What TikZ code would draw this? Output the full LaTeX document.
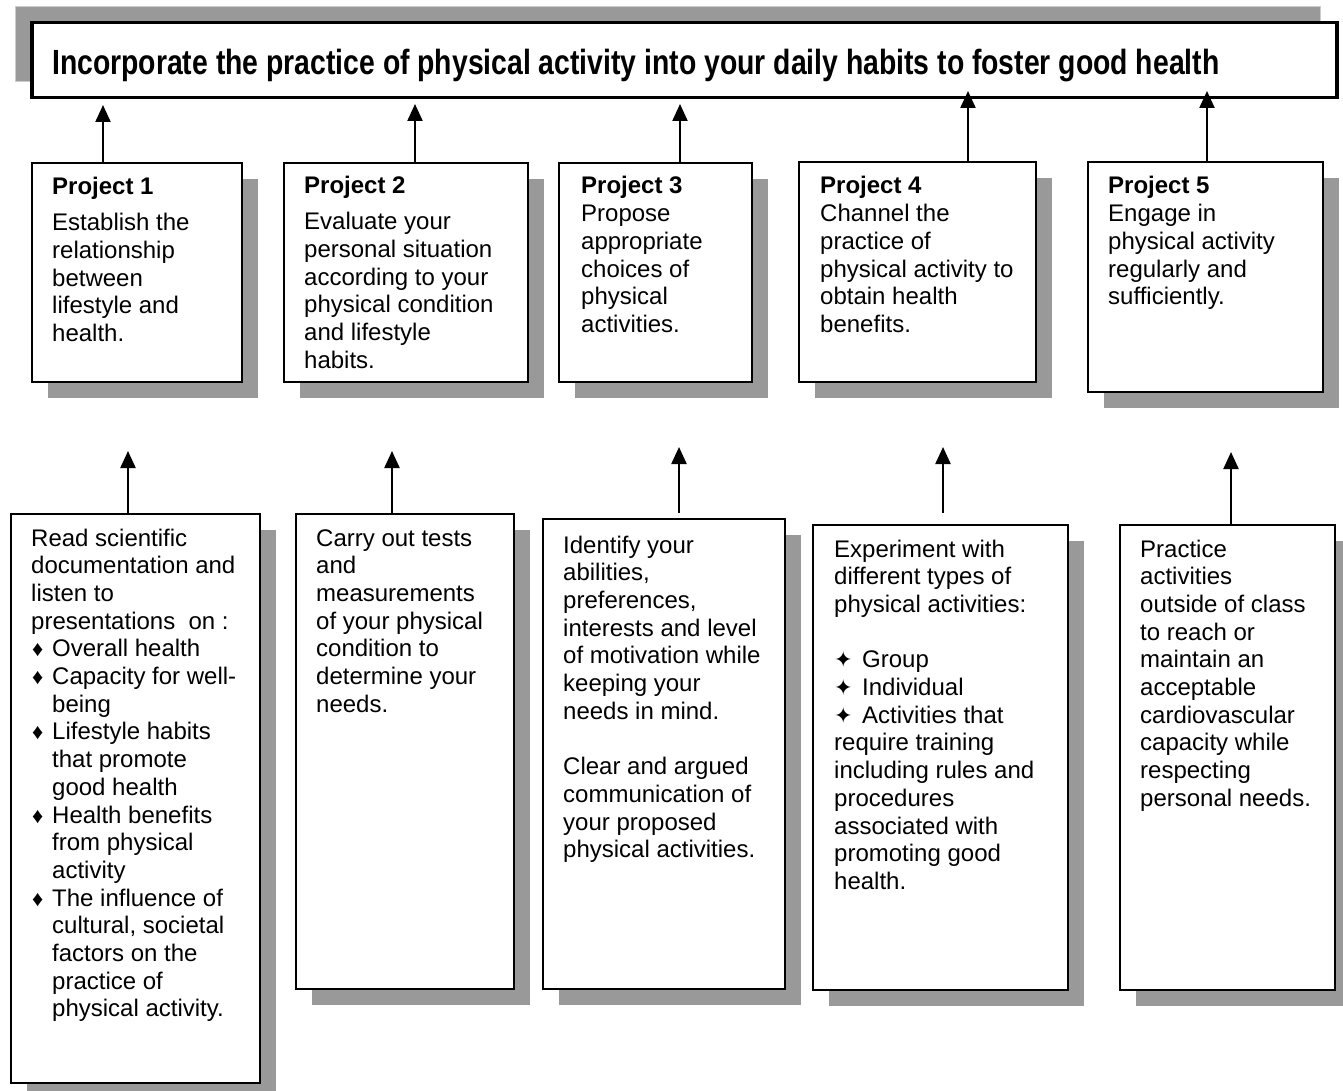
\documentclass[tikz,border=0pt]{standalone}
\usepackage{fontspec}
\setmainfont{Liberation Sans}
\newfontfamily\titlefont[FakeStretch=0.81]{Liberation Sans}
\newfontfamily\symfont{DejaVu Sans}
\usetikzlibrary{arrows.meta}
\usetikzlibrary{shadows}
\definecolor{shgray}{RGB}{153, 153, 153}
\newcommand{\boxlines}[1]{\parbox[t]{400pt}{\raggedright #1}}
\newcommand{\dia}{\makebox[21pt][l]{\hspace{1pt}\fontsize{22pt}{0pt}\selectfont ♦}}
\newcommand{\ind}{\hspace*{21pt}}
\newcommand{\sta}{\makebox[28pt][l]{\symfont\fontsize{22pt}{0pt}\selectfont ✦}}
\tikzset{arr/.style = {line width=2.2pt, -{Triangle[length=17pt, width=15pt]}}}
\tikzset{box/.style = {draw, line width=2pt, fill=white, inner sep=0, anchor=north west,
                       drop shadow={shadow xshift=16pt, shadow yshift=-16pt, fill=shgray, opacity=1}}}
\tikzset{goalbox/.style = {draw, line width=3.5pt, fill=white, inner sep=0, anchor=north west,
                           drop shadow={shadow xshift=-16pt, shadow yshift=16pt, fill=shgray,
                                        draw=black!20, line width=1pt, opacity=1}}}
\tikzset{txt/.style = {anchor=base west, inner sep=0, font=\fontsize{24pt}{27.7pt}\selectfont}}

\begin{document}
\begin{tikzpicture}[x=1pt, y=-1pt]
  \useasboundingbox (0, 0) rectangle (1343, 1091);
  % goal
  \node [goalbox, minimum width=1305pt, minimum height=75pt] (goal) at (30, 21) {};
  \node [anchor=base west, inner sep=0, font=\titlefont\bfseries\fontsize{35pt}{40pt}\selectfont] (goaltext) at (52, 75)
    {Incorporate the practice of physical activity into your daily habits to foster good health};
  % projects
  \node [box, minimum width=210pt, minimum height=219pt] (p1) at (31, 162) {};
  \node [box, minimum width=244pt, minimum height=219pt] (p2) at (283, 162) {};
  \node [box, minimum width=193pt, minimum height=219pt] (p3) at (558, 162) {};
  \node [box, minimum width=237pt, minimum height=220pt] (p4) at (798, 161) {};
  \node [box, minimum width=235pt, minimum height=230pt] (p5) at (1087, 161) {};
  \node [txt] (p1text) at (52, 195) {\boxlines{\textbf{Project 1}\\[8pt]
    Establish the\\ relationship\\ between\\ lifestyle and\\ health.}};
  \node [txt] (p2text) at (304, 194) {\boxlines{\textbf{Project 2}\\[8pt]
    Evaluate your\\ personal situation\\ according to your\\ physical condition\\ and lifestyle\\ habits.}};
  \node [txt] (p3text) at (581, 194) {\boxlines{\textbf{Project 3}\\
    Propose\\ appropriate\\ choices of\\ physical\\ activities.}};
  \node [txt] (p4text) at (820, 194) {\boxlines{\textbf{Project 4}\\
    Channel the\\ practice of\\ physical activity to\\ obtain health\\ benefits.}};
  \node [txt] (p5text) at (1108, 194) {\boxlines{\textbf{Project 5}\\
    Engage in\\ physical activity\\ regularly and\\ sufficiently.}};
  % bases
  \node [box, minimum width=249pt, minimum height=569pt] (b1) at (10, 513) {};
  \node [box, minimum width=218pt, minimum height=475pt] (b2) at (295, 513) {};
  \node [box, minimum width=242pt, minimum height=470pt] (b3) at (542, 518) {};
  \node [box, minimum width=255pt, minimum height=465pt] (b4) at (812, 524) {};
  \node [box, minimum width=215pt, minimum height=465pt] (b5) at (1119, 524) {};
  \node [txt] (b1text) at (31, 546) {\boxlines{Read scientific\\ documentation and\\ listen to\\
    presentations\ \ on :\\
    \dia Overall health\\
    \dia Capacity for well-\\ \ind being\\
    \dia Lifestyle habits\\ \ind that promote\\ \ind good health\\
    \dia Health benefits\\ \ind from physical\\ \ind activity\\
    \dia The influence of\\ \ind cultural, societal\\ \ind factors on the\\ \ind practice of\\
    \ind physical activity.}};
  \node [txt] (b2text) at (316, 546) {\boxlines{Carry out tests\\ and\\ measurements\\ of your physical\\
    condition to\\ determine your\\ needs.}};
  \node [txt] (b3text) at (563, 553) {\boxlines{Identify your\\ abilities,\\ preferences,\\ interests and level\\
    of motivation while\\ keeping your\\ needs in mind.\\[27.7pt]
    Clear and argued\\ communication of\\ your proposed\\ physical activities.}};
  \node [txt] (b4text) at (834, 557) {\boxlines{Experiment with\\ different types of\\ physical activities:\\[27.7pt]
    \sta Group\\ \sta Individual\\ \sta Activities that\\ require training\\ including rules and\\
    procedures\\ associated with\\ promoting good\\ health.}};
  \node [txt] (b5text) at (1140, 557) {\boxlines{Practice\\ activities\\ outside of class\\ to reach or\\
    maintain an\\ acceptable\\ cardiovascular\\ capacity while\\ respecting\\ personal needs.}};
  % arrow tips
  \coordinate (g1) at (103, 105);
  \coordinate (g2) at (415, 104);
  \coordinate (g3) at (680, 104);
  \coordinate (g4) at (968, 91);
  \coordinate (g5) at (1207, 91);
  \coordinate (u1) at (128, 451);
  \coordinate (u2) at (392, 451);
  \coordinate (u3) at (679, 447);
  \coordinate (u4) at (943, 447);
  \coordinate (u5) at (1231, 452);
  \draw [arr] (p1.north -| g1) -- (g1);
  \draw [arr] (p2.north -| g2) -- (g2);
  \draw [arr] (p3.north -| g3) -- (g3);
  \draw [arr] (p4.north -| g4) -- (g4);
  \draw [arr] (p5.north -| g5) -- (g5);
  \draw [arr] (b1.north -| u1) -- (u1);
  \draw [arr] (b2.north -| u2) -- (u2);
  \draw [arr, shorten <=5pt] (b3.north -| u3) -- (u3);
  \draw [arr, shorten <=11pt] (b4.north -| u4) -- (u4);
  \draw [arr] (b5.north -| u5) -- (u5);
\end{tikzpicture}
\end{document}
